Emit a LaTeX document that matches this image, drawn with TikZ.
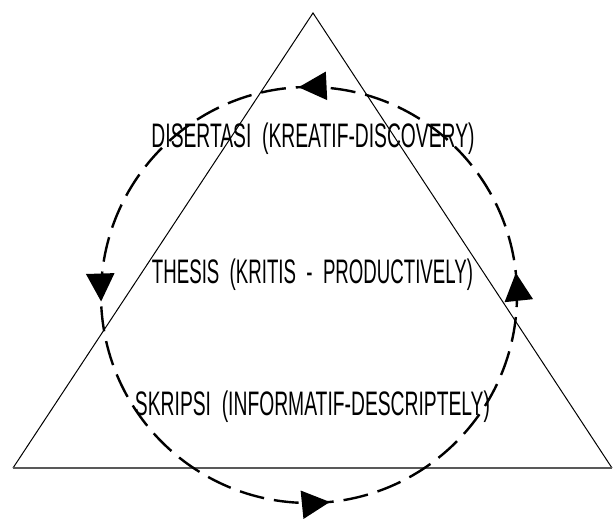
\documentclass[tikz,border=0pt]{standalone}
\usepackage{fontspec}
\setmainfont{Liberation Sans}
\usepackage{graphicx}
\usetikzlibrary{arrows.meta,decorations.markings}
\begin{document}
\begin{tikzpicture}[x=1pt,y=1pt,
  side/.style={black,line width=1pt},
  baseline/.style={black!65,line width=2pt},
  cycle/.style={black,line width=2.4pt,dash pattern=on 25pt off 10pt},
  label/.style={anchor=base,inner sep=0pt,font=\fontsize{34}{34}\selectfont}]
\useasboundingbox (0,0) rectangle (613,520);
\coordinate (apex) at (313,507);
\coordinate (bl) at (13,52);
\coordinate (br) at (612,52);
\draw[side] (bl) -- (apex) -- (br);
\draw[baseline] (bl) -- (br);
\draw[cycle,decoration={markings,
   mark=at position 0.017 with {\arrow{Triangle[length=28pt,width=28pt]}},
   mark=at position 0.258 with {\arrow{Triangle[length=28pt,width=28pt]}},
   mark=at position 0.505 with {\arrow{Triangle[length=28pt,width=28pt]}},
   mark=at position 0.766 with {\arrow{Triangle[length=28pt,width=28pt]}}},
   postaction=decorate] (309,225) circle[radius=208];
\node[label] (d) at (313,372) {\resizebox{323pt}{\height}{DISERTASI \ (KREATIF-DISCOVERY)}};
\node[label] (t) at (312.5,236) {\resizebox{321pt}{\height}{THESIS \ (KRITIS \ - \ PRODUCTIVELY)}};
\node[label] (s) at (312.5,105) {\resizebox{355pt}{\height}{SKRIPSI \ (INFORMATIF-DESCRIPTELY)}};
\end{tikzpicture}
\end{document}
